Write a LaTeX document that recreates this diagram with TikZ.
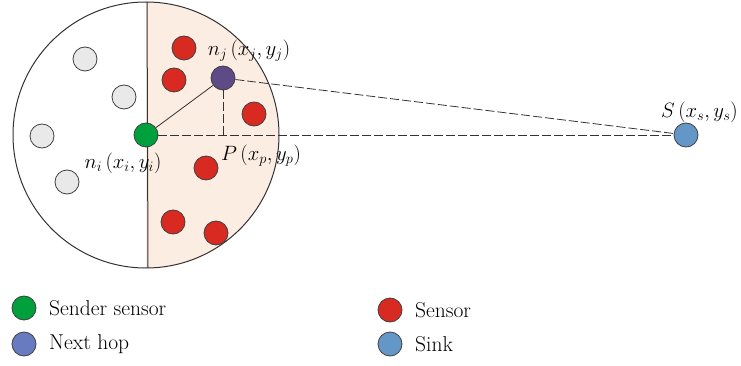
\documentclass[tikz,border=0pt]{standalone}
\usepackage{tikz}
\usetikzlibrary{calc}
\definecolor{peach}{RGB}{252,237,227}
\definecolor{sgreen}{RGB}{0,160,60}
\definecolor{sred}{RGB}{216,42,32}
\definecolor{sgray}{RGB}{233,233,233}
\definecolor{spurple}{RGB}{94,74,134}
\definecolor{sblue}{RGB}{100,150,200}
\definecolor{lblue}{RGB}{104,122,192}
\tikzset{
    sensornode/.style={circle, draw=black!75, fill=#1, minimum size=24pt, inner sep=0pt, line width=0.8pt},
    lbl/.style={inner sep=1pt, font=\fontsize{20}{23}\selectfont},
    keytext/.style={inner sep=1pt, anchor=west, font=\fontsize{21.5}{25}\selectfont}
}
\newcommand{\dashline}{\draw[black!80, line width=0.8pt, dash pattern=on 9pt off 3pt]}

\begin{document}
\begin{tikzpicture}[x=1pt, y=1pt]
    \useasboundingbox (0,0) rectangle (741,-366);

    % Draw range
    \coordinate (c) at (146,-135);
    \fill[peach] (146,-2) arc[start angle=90, end angle=-90, radius=133] -- cycle;
    \draw[black!80, line width=1pt] (c) circle (133);
    \draw[black!80, line width=1pt] (147,-2) -- (148,-268);

    % Draw sensors
    \foreach \x/\y [count=\i] in {85/59, 124/97, 42/136, 67/182} {
        \node[sensornode=sgray] (g\i) at (\x,-\y) {};
    }
    \foreach \x/\y [count=\i] in {184/48, 174/80, 254/114, 206/168, 173/222, 216/233} {
        \node[sensornode=sred] (r\i) at (\x,-\y) {};
    }
    \node[sensornode=sgreen] (ni) at (c) {};
    \node[sensornode=spurple] (nj) at (223,-78) {};
    \node[sensornode=sblue] (sink) at (686,-135) {};
    \coordinate (p) at (223,-135);

    % Draw links
    \draw[black!80, line width=0.8pt] (ni) -- (nj);
    \dashline (nj) -- (p);
    \dashline (ni) -- (sink);
    \dashline (nj) -- (sink);

    % Draw labels
    \node[lbl] (lnj) at (249,-51) {$n_j\,(x_j, y_j)$};
    \node[lbl] (lni) at (123,-163) {$n_i\,(x_i, y_i)$};
    \node[lbl] (lp) at (261,-156) {$P\,(x_p, y_p)$};
    \node[lbl, anchor=east] (ls) at (739,-112) {$S\,(x_s, y_s)$};

    % Draw legend
    \node[sensornode=sgreen] (k1) at (24,-308) {};
    \node[sensornode=lblue] (k2) at (24,-344) {};
    \node[sensornode=sred] (k3) at (390,-310) {};
    \node[sensornode=sblue] (k4) at (390,-344) {};
    \node[keytext] (t1) at (48,-308) {Sender sensor};
    \node[keytext] (t2) at (48,-344) {Next hop};
    \node[keytext] (t3) at (414,-310) {Sensor};
    \node[keytext] (t4) at (414,-344) {Sink};
\end{tikzpicture}
\end{document}
